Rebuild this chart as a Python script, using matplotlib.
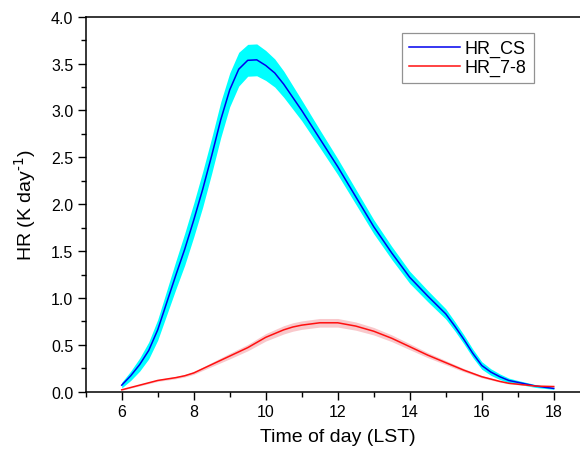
import matplotlib
matplotlib.use('Agg')
import matplotlib.pyplot as plt
import numpy as np

plt.rcParams['font.family'] = ['Liberation Sans', 'DejaVu Sans']

# time of day (LST)
hours = [6.0, 6.25, 6.5, 6.75, 7.0, 7.25, 7.5, 7.75, 8.0, 8.25, 8.5, 8.75,
         9.0, 9.25, 9.5, 9.75, 10.0, 10.25, 10.5, 10.75, 11.0, 11.5, 12.0,
         12.5, 13.0, 13.5, 14.0, 14.5, 15.0, 15.25, 15.5, 15.75, 16.0, 16.25,
         16.5, 16.75, 17.0, 17.5, 18.0]

# clear-sky heating rate and its spread
hr_cs = [0.07, 0.17, 0.29, 0.44, 0.66, 0.95, 1.24, 1.52, 1.83, 2.16, 2.52,
         2.90, 3.22, 3.44, 3.535, 3.54, 3.48, 3.40, 3.28, 3.14, 3.00, 2.70,
         2.40, 2.08, 1.76, 1.48, 1.22, 1.02, 0.83, 0.70, 0.56, 0.41, 0.28,
         0.21, 0.16, 0.12, 0.10, 0.06, 0.035]
cs_spread = [0.03, 0.05, 0.07, 0.09, 0.11, 0.13, 0.15, 0.17, 0.18, 0.19, 0.19,
             0.19, 0.18, 0.18, 0.17, 0.17, 0.16, 0.15, 0.14, 0.125, 0.11,
             0.095, 0.085, 0.08, 0.075, 0.07, 0.065, 0.06, 0.055, 0.05, 0.048,
             0.045, 0.04, 0.035, 0.03, 0.025, 0.02, 0.015, 0.01]

# heating rate 7-8 and its spread
hr_78 = [0.02, 0.045, 0.07, 0.095, 0.12, 0.135, 0.15, 0.17, 0.20, 0.245, 0.29,
         0.335, 0.38, 0.425, 0.47, 0.525, 0.58, 0.62, 0.66, 0.69, 0.71, 0.735,
         0.735, 0.70, 0.645, 0.57, 0.48, 0.39, 0.31, 0.27, 0.23, 0.195, 0.16,
         0.135, 0.11, 0.09, 0.08, 0.06, 0.055]
s78_spread = [0.005, 0.006, 0.008, 0.009, 0.01, 0.011, 0.012, 0.013, 0.015,
              0.018, 0.022, 0.026, 0.03, 0.032, 0.034, 0.037, 0.04, 0.042,
              0.044, 0.045, 0.045, 0.046, 0.046, 0.044, 0.04, 0.036, 0.032,
              0.027, 0.022, 0.02, 0.017, 0.014, 0.012, 0.01, 0.008, 0.007,
              0.006, 0.004, 0.003]

t = np.array(hours)
cs = np.array(hr_cs)
r78 = np.array(hr_78)
dcs = np.array(cs_spread)
d78 = np.array(s78_spread)

fig = plt.figure(figsize=(5.8, 4.52), dpi=100)
ax = fig.add_axes([0.1478, 0.1312, 0.869, 0.8296])

ax.fill_between(t, cs - dcs, cs + dcs, color='#00ffff', lw=0)
ax.fill_between(t, r78 - d78, r78 + d78, color='#f9c8cb', lw=0)
ax.plot(t, cs, color='#0000ee', lw=1.1, label='HR_CS')
ax.plot(t, r78, color='#ff1010', lw=1.1, label='HR_7-8')

ax.set_xlim(5, 19)
ax.set_ylim(0, 4.0)
ax.set_xticks([6, 8, 10, 12, 14, 16, 18])
ax.set_xticks(np.arange(5, 19, 1), minor=True)
ax.set_yticks(np.arange(0, 4.01, 0.5))
ax.set_yticks(np.arange(0, 4.01, 0.25), minor=True)
ax.yaxis.set_major_formatter(matplotlib.ticker.FormatStrFormatter('%.1f'))

ax.tick_params(which='major', direction='out', length=6, width=1,
               labelsize=11.5, pad=3)
ax.tick_params(which='minor', direction='out', length=3.5, width=1)
ax.spines['right'].set_visible(False)
for s in ['left', 'bottom', 'top']:
    ax.spines[s].set_linewidth(1.1)

ax.set_xlabel('Time of day (LST)', fontsize=14, labelpad=6)
ax.set_ylabel(r'HR (K day$^{\text{-1}}$)', fontsize=14, labelpad=9)

leg = ax.legend(loc='upper left', bbox_to_anchor=(0.627, 0.957),
                borderaxespad=0, fontsize=13, fancybox=False,
                handlelength=2.8, handletextpad=0.3, borderpad=0.4,
                labelspacing=0.1)
leg.get_frame().set_edgecolor('#777777')
leg.get_frame().set_linewidth(0.9)

fig.savefig('out.png', dpi=100)
